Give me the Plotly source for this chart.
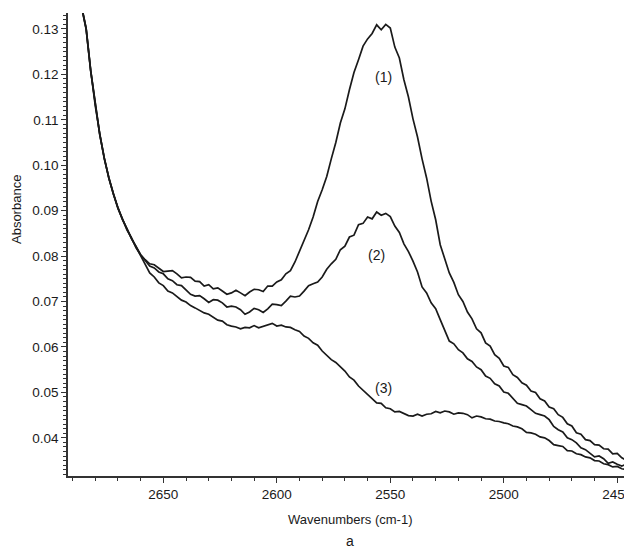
import plotly.graph_objects as go

# IR spectra, absorbance vs wavenumber (cm-1)
wavenumbers = [
    2688, 2686, 2684, 2682, 2680, 2678, 2676, 2674, 2672, 2670, 2668, 2666, 2664, 2662,
    2660, 2658, 2656, 2654, 2652, 2650, 2648, 2646, 2644, 2642, 2640, 2638, 2636, 2634,
    2632, 2630, 2628, 2626, 2624, 2622, 2620, 2618, 2616, 2614, 2612, 2610, 2608, 2606,
    2604, 2602, 2600, 2598, 2596, 2594, 2592, 2590, 2588, 2586, 2584, 2582, 2580, 2578,
    2576, 2574, 2572, 2570, 2568, 2566, 2564, 2562, 2560, 2558, 2556, 2554, 2552, 2550,
    2548, 2546, 2544, 2542, 2540, 2538, 2536, 2534, 2532, 2530, 2528, 2526, 2524, 2522,
    2520, 2518, 2516, 2514, 2512, 2510, 2508, 2506, 2504, 2502, 2500, 2498, 2496, 2494,
    2492, 2490, 2488, 2486, 2484, 2482, 2480, 2478, 2476, 2474, 2472, 2470, 2468, 2466,
    2464, 2462, 2460, 2458, 2456, 2454, 2452, 2450, 2448, 2446,
]

absorb_1 = [
    0.1398, 0.1350, 0.1301, 0.1209, 0.1131, 0.1069, 0.1014, 0.0973, 0.0936, 0.0907, 0.0880, 0.0860, 0.0838, 0.0821,
    0.0803, 0.0792, 0.0783, 0.0781, 0.0774, 0.0766, 0.0767, 0.0768, 0.0761, 0.0752, 0.0754, 0.0753, 0.0745, 0.0744,
    0.0734, 0.0737, 0.0728, 0.0730, 0.0723, 0.0716, 0.0719, 0.0725, 0.0719, 0.0713, 0.0721, 0.0727, 0.0726, 0.0722,
    0.0734, 0.0734, 0.0743, 0.0748, 0.0761, 0.0768, 0.0787, 0.0810, 0.0836, 0.0858, 0.0886, 0.0920, 0.0946, 0.0975,
    0.1014, 0.1050, 0.1093, 0.1124, 0.1166, 0.1204, 0.1232, 0.1262, 0.1278, 0.1290, 0.1309, 0.1298, 0.1310, 0.1302,
    0.1260, 0.1236, 0.1188, 0.1150, 0.1102, 0.1062, 0.1014, 0.0972, 0.0921, 0.0880, 0.0825, 0.0792, 0.0763, 0.0742,
    0.0715, 0.0700, 0.0677, 0.0662, 0.0640, 0.0631, 0.0609, 0.0602, 0.0583, 0.0575, 0.0558, 0.0555, 0.0539, 0.0533,
    0.0521, 0.0516, 0.0503, 0.0500, 0.0486, 0.0481, 0.0468, 0.0464, 0.0451, 0.0445, 0.0431, 0.0426, 0.0411, 0.0408,
    0.0396, 0.0394, 0.0385, 0.0384, 0.0376, 0.0375, 0.0365, 0.0366, 0.0356, 0.0351,
]

absorb_2 = [
    0.1396, 0.1348, 0.1299, 0.1207, 0.1133, 0.1067, 0.1016, 0.0971, 0.0938, 0.0905, 0.0882, 0.0857, 0.0840, 0.0818,
    0.0803, 0.0790, 0.0778, 0.0774, 0.0765, 0.0761, 0.0750, 0.0746, 0.0737, 0.0735, 0.0726, 0.0716, 0.0712, 0.0713,
    0.0706, 0.0698, 0.0704, 0.0703, 0.0697, 0.0688, 0.0690, 0.0688, 0.0682, 0.0672, 0.0677, 0.0685, 0.0682, 0.0676,
    0.0684, 0.0694, 0.0693, 0.0691, 0.0701, 0.0712, 0.0710, 0.0712, 0.0723, 0.0735, 0.0739, 0.0743, 0.0754, 0.0771,
    0.0783, 0.0793, 0.0814, 0.0822, 0.0842, 0.0846, 0.0869, 0.0872, 0.0886, 0.0882, 0.0897, 0.0890, 0.0894, 0.0887,
    0.0866, 0.0852, 0.0827, 0.0810, 0.0789, 0.0765, 0.0732, 0.0719, 0.0697, 0.0684, 0.0660, 0.0635, 0.0613, 0.0607,
    0.0594, 0.0587, 0.0574, 0.0568, 0.0556, 0.0550, 0.0536, 0.0531, 0.0519, 0.0514, 0.0501, 0.0498, 0.0488, 0.0476,
    0.0473, 0.0470, 0.0462, 0.0454, 0.0451, 0.0448, 0.0440, 0.0425, 0.0418, 0.0413, 0.0400, 0.0396, 0.0389, 0.0378,
    0.0374, 0.0367, 0.0358, 0.0360, 0.0354, 0.0344, 0.0347, 0.0342, 0.0338, 0.0342,
]

absorb_3 = [
    0.1397, 0.1349, 0.1300, 0.1208, 0.1132, 0.1068, 0.1015, 0.0972, 0.0937, 0.0906, 0.0881, 0.0858, 0.0839, 0.0820,
    0.0800, 0.0780, 0.0763, 0.0754, 0.0741, 0.0735, 0.0723, 0.0719, 0.0710, 0.0703, 0.0699, 0.0691, 0.0686, 0.0681,
    0.0675, 0.0672, 0.0666, 0.0659, 0.0657, 0.0649, 0.0646, 0.0644, 0.0640, 0.0643, 0.0642, 0.0647, 0.0642, 0.0645,
    0.0649, 0.0652, 0.0646, 0.0648, 0.0644, 0.0643, 0.0638, 0.0634, 0.0624, 0.0619, 0.0609, 0.0604, 0.0591, 0.0582,
    0.0572, 0.0566, 0.0556, 0.0547, 0.0534, 0.0527, 0.0514, 0.0505, 0.0496, 0.0487, 0.0477, 0.0476, 0.0466, 0.0464,
    0.0457, 0.0458, 0.0453, 0.0449, 0.0448, 0.0452, 0.0448, 0.0452, 0.0453, 0.0458, 0.0455, 0.0459, 0.0457, 0.0452,
    0.0455, 0.0454, 0.0451, 0.0444, 0.0448, 0.0446, 0.0442, 0.0441, 0.0437, 0.0436, 0.0433, 0.0431, 0.0426, 0.0424,
    0.0420, 0.0412, 0.0411, 0.0408, 0.0402, 0.0400, 0.0394, 0.0385, 0.0383, 0.0381, 0.0372, 0.0371, 0.0365, 0.0363,
    0.0358, 0.0356, 0.0350, 0.0349, 0.0343, 0.0341, 0.0336, 0.0337, 0.0332, 0.0330,
]

curve_labels = ["(1)", "(2)", "(3)"]
label_wn = [2553, 2556, 2553]
label_abs = [0.1194, 0.0803, 0.0510]

FONT = "Liberation Sans, Arial, sans-serif"
INK = "#1a1a1a"

fig = go.Figure()

for ys in (absorb_1, absorb_2, absorb_3):
    fig.add_trace(go.Scatter(
        x=wavenumbers, y=ys, mode="lines",
        line=dict(color=INK, width=1.7),
        showlegend=False, hoverinfo="skip",
    ))

for txt, wx, wy in zip(curve_labels, label_wn, label_abs):
    fig.add_annotation(x=wx, y=wy, text=txt, showarrow=False,
                       font=dict(family=FONT, size=14, color=INK))

# axis titles placed by hand to sit where the reference has them
fig.add_annotation(xref="paper", yref="paper", x=-0.09, y=0.575, text="Absorbance",
                   textangle=-90, showarrow=False, xanchor="center", yanchor="middle",
                   font=dict(family=FONT, size=13, color=INK))
fig.add_annotation(xref="paper", yref="paper", x=0.5, y=-0.095, text="Wavenumbers (cm-1)",
                   showarrow=False, xanchor="center", yanchor="middle",
                   font=dict(family=FONT, size=13, color=INK))
fig.add_annotation(xref="paper", yref="paper", x=0.5, y=-0.14, text="a",
                   showarrow=False, xanchor="center", yanchor="middle",
                   font=dict(family=FONT, size=14, color=INK))

# the page body keeps an 8px margin, so the figure is 8px smaller each way
fig.update_layout(
    width=624, height=542,
    margin=dict(l=60, r=0, t=5, b=74),
    plot_bgcolor="white", paper_bgcolor="white",
    font=dict(family=FONT, size=13.5, color=INK),
    xaxis=dict(
        range=[2692, 2443.5], dtick=50, tick0=2450, automargin=False,
        ticklabeloverflow="allow",
        showline=True, linecolor="#333", linewidth=1.5,
        ticks="outside", ticklen=5, tickcolor="#333", showgrid=False, zeroline=False,
        minor=dict(dtick=10, ticks="outside", ticklen=3, tickcolor="#333", showgrid=False),
    ),
    yaxis=dict(
        range=[0.0316, 0.1335], dtick=0.01, tick0=0, tickformat=".2f", automargin=False,
        showline=True, linecolor="#333", linewidth=1.5,
        ticks="outside", ticklen=5, tickcolor="#333", showgrid=False, zeroline=False,
        minor=dict(dtick=0.001, ticks="outside", ticklen=3, tickcolor="#333", showgrid=False),
    ),
)

fig.write_html("out.html")
